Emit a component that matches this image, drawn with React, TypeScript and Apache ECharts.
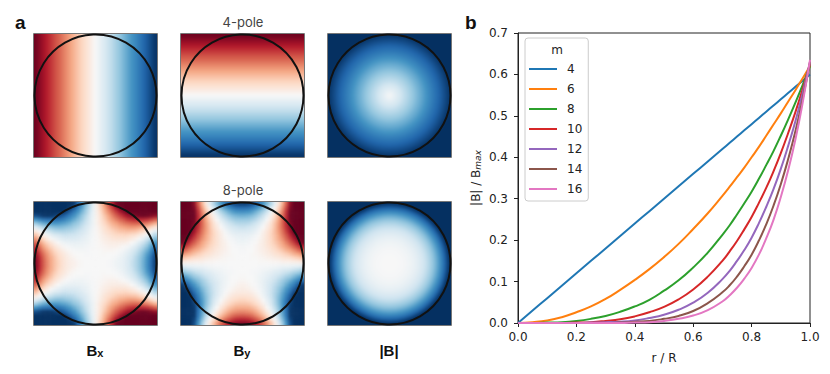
import React, { useEffect, useRef } from "react";
import * as echarts from "echarts";

// Panel b
const radius = [0, 0.05, 0.1, 0.15, 0.2, 0.25, 0.3, 0.35, 0.4, 0.45, 0.5, 0.55, 0.6, 0.65, 0.7, 0.725, 0.75, 0.775, 0.8, 0.825, 0.85, 0.875, 0.9, 0.925, 0.95, 0.975, 1];
const m4 = [0, 0.03, 0.06, 0.09, 0.12, 0.15, 0.18, 0.21, 0.24, 0.27, 0.3, 0.33, 0.36, 0.39, 0.42, 0.435, 0.45, 0.465, 0.48, 0.495, 0.51, 0.525, 0.54, 0.555, 0.57, 0.585, 0.6];
const m6 = [0, 0.002, 0.006, 0.014, 0.026, 0.04, 0.058, 0.08, 0.104, 0.13, 0.159, 0.191, 0.227, 0.265, 0.307, 0.329, 0.352, 0.375, 0.4, 0.425, 0.452, 0.479, 0.506, 0.534, 0.562, 0.591, 0.62];
const m8 = [0, 0, 0.001, 0.002, 0.005, 0.01, 0.017, 0.027, 0.04, 0.056, 0.078, 0.103, 0.134, 0.17, 0.213, 0.236, 0.262, 0.289, 0.317, 0.348, 0.381, 0.415, 0.452, 0.491, 0.532, 0.575, 0.62];
const m10 = [0, 0, 0, 0, 0.001, 0.002, 0.005, 0.009, 0.016, 0.026, 0.039, 0.057, 0.081, 0.112, 0.15, 0.173, 0.198, 0.226, 0.256, 0.29, 0.326, 0.366, 0.41, 0.458, 0.509, 0.565, 0.625];
const m12 = [0, 0, 0, 0, 0, 0.001, 0.002, 0.003, 0.006, 0.012, 0.02, 0.032, 0.049, 0.073, 0.106, 0.126, 0.15, 0.176, 0.206, 0.241, 0.28, 0.323, 0.372, 0.427, 0.487, 0.555, 0.63];
const m14 = [0, 0, 0, 0, 0, 0, 0, 0.001, 0.003, 0.005, 0.01, 0.017, 0.029, 0.048, 0.074, 0.091, 0.112, 0.137, 0.165, 0.199, 0.238, 0.283, 0.335, 0.395, 0.463, 0.541, 0.63];
const m16 = [0, 0, 0, 0, 0, 0, 0, 0, 0.001, 0.002, 0.005, 0.01, 0.018, 0.031, 0.052, 0.067, 0.085, 0.107, 0.133, 0.165, 0.204, 0.249, 0.304, 0.368, 0.443, 0.532, 0.635];
const curves: [string, number[]][] = [["4", m4], ["6", m6], ["8", m8], ["10", m10], ["12", m12], ["14", m14], ["16", m16]];
const curveColors = ["#1f77b4", "#ff7f0e", "#2ca02c", "#d62728", "#9467bd", "#8c564b", "#e377c2"];

// Panel a, 4-pole: field across the square, left to right
const pole4Profile = [-0.98, -0.93, -0.88, -0.83, -0.78, -0.73, -0.68, -0.63, -0.59, -0.54, -0.49, -0.44, -0.39, -0.34, -0.29, -0.24, -0.2, -0.15, -0.1, -0.05, 0, 0.05, 0.1, 0.15, 0.2, 0.24, 0.29, 0.34, 0.39, 0.44, 0.49, 0.54, 0.59, 0.63, 0.68, 0.73, 0.78, 0.83, 0.88, 0.93, 0.98];
// |B| from centre to rim, in 40 equal radial steps
const pole4Radial = [0, 0.02, 0.05, 0.07, 0.1, 0.12, 0.15, 0.17, 0.2, 0.22, 0.25, 0.27, 0.29, 0.32, 0.34, 0.37, 0.39, 0.42, 0.44, 0.47, 0.49, 0.51, 0.54, 0.56, 0.59, 0.61, 0.64, 0.66, 0.69, 0.71, 0.74, 0.76, 0.78, 0.81, 0.83, 0.86, 0.88, 0.91, 0.93, 0.96, 0.98];
const pole8Radial = [0, 0, 0, 0, 0.001, 0.002, 0.003, 0.006, 0.009, 0.012, 0.017, 0.022, 0.029, 0.036, 0.045, 0.055, 0.067, 0.08, 0.096, 0.112, 0.131, 0.151, 0.174, 0.198, 0.226, 0.255, 0.287, 0.321, 0.359, 0.398, 0.441, 0.486, 0.535, 0.586, 0.641, 0.7, 0.762, 0.827, 0.897, 0.969, 1];
// 8-pole Bx, upper-right quadrant: rows go from the centre line upward, columns from the centre line rightward
const pole8Quadrant = [
  [0, 0, 0, 0.01, 0.02, 0.05, 0.07, 0.1, 0.15, 0.22, 0.29, 0.38, 0.49, 0.62, 0.77, 0.94],
  [0, 0, 0, 0, 0.01, 0.03, 0.06, 0.09, 0.14, 0.2, 0.28, 0.37, 0.47, 0.6, 0.75, 0.92],
  [0, -0.01, -0.01, 0, 0, 0.01, 0.03, 0.07, 0.12, 0.17, 0.24, 0.33, 0.44, 0.56, 0.7, 0.87],
  [0, -0.01, -0.02, -0.02, -0.02, -0.01, 0.01, 0.03, 0.08, 0.13, 0.2, 0.28, 0.38, 0.49, 0.63, 0.79],
  [-0.01, -0.02, -0.03, -0.05, -0.05, -0.05, -0.03, -0.01, 0.02, 0.07, 0.13, 0.21, 0.3, 0.41, 0.55, 0.7],
  [-0.01, -0.03, -0.06, -0.07, -0.08, -0.08, -0.08, -0.07, -0.05, 0, 0.05, 0.13, 0.21, 0.31, 0.44, 0.59],
  [-0.01, -0.05, -0.08, -0.1, -0.13, -0.14, -0.14, -0.14, -0.12, -0.09, -0.05, 0.01, 0.09, 0.2, 0.31, 0.45],
  [-0.02, -0.06, -0.1, -0.14, -0.17, -0.2, -0.21, -0.22, -0.21, -0.18, -0.16, -0.1, -0.05, 0.05, 0.15, 0.28],
  [-0.02, -0.08, -0.14, -0.18, -0.22, -0.26, -0.29, -0.3, -0.31, -0.3, -0.29, -0.24, -0.2, -0.12, -0.02, 0.09],
  [-0.03, -0.1, -0.16, -0.23, -0.29, -0.33, -0.38, -0.4, -0.43, -0.44, -0.43, -0.4, -0.37, -0.3, -0.22, -0.12],
  [-0.05, -0.13, -0.21, -0.28, -0.36, -0.41, -0.47, -0.52, -0.55, -0.58, -0.59, -0.58, -0.55, -0.51, -0.44, -0.36],
  [-0.05, -0.15, -0.24, -0.35, -0.43, -0.51, -0.59, -0.64, -0.7, -0.74, -0.76, -0.77, -0.76, -0.74, -0.68, -0.61],
  [-0.06, -0.17, -0.29, -0.4, -0.51, -0.61, -0.7, -0.78, -0.85, -0.91, -0.95, -0.98, -0.99, -0.98, -0.94, -0.9],
  [-0.07, -0.21, -0.35, -0.47, -0.6, -0.71, -0.83, -0.93, -1, -1, -1, -1, -1, -1, -1, -1],
  [-0.08, -0.24, -0.39, -0.55, -0.69, -0.84, -0.97, -1, -1, -1, -1, -1, -1, -1, -1, -1],
  [-0.09, -0.28, -0.45, -0.63, -0.79, -0.97, -1, -1, -1, -1, -1, -1, -1, -1, -1, -1],
];
const rdBu = ["#67001f", "#b2182b", "#d6604d", "#f4a582", "#fddbc7", "#f7f7f7", "#d1e5f0", "#92c5de", "#4393c3", "#2166ac", "#053061"];

const cols = [34, 181, 328];
const rows = [34, 202];
const SIZE = 123;
const clipD = cols.flatMap((x) => rows.map((y) => `M${x} ${y}h${SIZE}v${SIZE}h-${SIZE}z`)).join(" ");

const clamp = (v: number, lo: number, hi: number) => Math.max(lo, Math.min(hi, v));

// 8-pole cells, with the outermost row and column repeated once so that the soft edge falls outside the square
const quadrantGrid = (pick: (ax: number, ay: number) => number, flip: "x" | "y") => {
  const out: number[][] = [];
  for (let ci = 0; ci < 34; ci++) {
    for (let ri = 0; ri < 34; ri++) {
      const c = clamp(ci - 1, 0, 31);
      const r = clamp(ri - 1, 0, 31);
      const ax = c < 16 ? 15 - c : c - 16;
      const ay = r < 16 ? 15 - r : r - 16;
      const neg = flip === "x" ? c < 16 : r < 16;
      const v = pick(ax, ay);
      out.push([ci, ri, neg ? -v : v]);
    }
  }
  return out;
};
const strip = () => [pole4Profile[0], ...pole4Profile, pole4Profile[40]];

const renderRing = (params: any, api: any) => {
  const rr = api.value(0);
  const fill = api.visual("color");
  const cs = params.coordSys;
  if (rr > 1) return { type: "rect", shape: { x: cs.x, y: cs.y, width: cs.width, height: cs.height }, style: { fill } };
  const c = api.coord([0, 0]);
  const s = api.size([rr, 0]);
  return { type: "circle", shape: { cx: c[0], cy: c[1], r: s[0] }, style: { fill } };
};
const ringData = (profile: number[]) => {
  const out: number[][] = [[1.5, 0, 1]];
  for (let i = profile.length - 1; i >= 0; i--) out.push([i / (profile.length - 1), 0, profile[i]]);
  return out;
};

export default function App() {
  const fieldRef = useRef<HTMLDivElement>(null);
  const topRef = useRef<HTMLDivElement>(null);
  useEffect(() => {
    document.body.style.margin = "0";
    const field = echarts.init(fieldRef.current!, undefined, { renderer: "svg" });
    const chart = echarts.init(topRef.current!, undefined, { renderer: "svg" });
    const idx = (n: number) => Array.from({ length: n }, (_, i) => String(i));
    const grids: any[] = [];
    const xAxes: any[] = [];
    const yAxes: any[] = [];
    const series: any[] = [];
    const hm = (i: number, data: number[][]) => ({ type: "heatmap", xAxisIndex: i, yAxisIndex: i, data, silent: true, progressive: 0 });
    const cat = (n: number, i: number) => ({ type: "category", data: idx(n), show: false, gridIndex: i });
    const val = (i: number) => ({ type: "value", min: -65.5 / 61.5, max: 65.5 / 61.5, show: false, gridIndex: i });
    const addGrid = (col: number, row: number, pad: number) => {
      grids.push({ left: cols[col] - pad, top: rows[row] - pad, width: SIZE + 2 * pad, height: SIZE + 2 * pad });
    };
    // 4-pole Bx
    addGrid(0, 0, 3); xAxes.push(cat(43, 0)); yAxes.push(cat(1, 0));
    series.push(hm(0, strip().map((v, i) => [i, 0, v])));
    // 4-pole By
    addGrid(1, 0, 3); xAxes.push(cat(1, 1)); yAxes.push(cat(43, 1));
    series.push(hm(1, strip().map((v, i) => [0, 42 - i, v])));
    // 4-pole |B|
    addGrid(2, 0, 4); xAxes.push(val(2)); yAxes.push(val(2));
    series.push({ type: "custom", xAxisIndex: 2, yAxisIndex: 2, renderItem: renderRing, data: ringData(pole4Radial), silent: true, encode: { x: 0, y: 1 } });
    // 8-pole Bx
    addGrid(0, 1, 3.84); xAxes.push(cat(34, 3)); yAxes.push(cat(34, 3));
    series.push(hm(3, quadrantGrid((ax, ay) => pole8Quadrant[ay][ax], "x")));
    // 8-pole By
    addGrid(1, 1, 3.84); xAxes.push(cat(34, 4)); yAxes.push(cat(34, 4));
    series.push(hm(4, quadrantGrid((ax, ay) => pole8Quadrant[ax][ay], "y")));
    // 8-pole |B|
    addGrid(2, 1, 4); xAxes.push(val(5)); yAxes.push(val(5));
    series.push({ type: "custom", xAxisIndex: 5, yAxisIndex: 5, renderItem: renderRing, data: ringData(pole8Radial), silent: true, encode: { x: 0, y: 1 } });

    field.setOption({
      animation: false,
      grid: grids,
      xAxis: xAxes,
      yAxis: yAxes,
      visualMap: { show: false, type: "continuous", min: -1, max: 1, dimension: 2, seriesIndex: [0, 1, 2, 3, 4, 5], inRange: { color: rdBu } },
      series,
    });

    // Panel b
    const tickLabel = { color: "#222", fontFamily: "DejaVu Sans", fontSize: 12 };
    const axisBits = {
      axisLine: { show: true, onZero: false, lineStyle: { color: "#222", width: 1 } },
      axisTick: { show: true, length: 4, lineStyle: { color: "#222", width: 1 } },
      splitLine: { show: false },
    };
    const bold = { fontFamily: "Liberation Sans", fontWeight: "bold", fill: "#111" };
    const subRich = (label: string, sub: string, x: number) => ({
      type: "text", x, y: 350, z: 100,
      style: {
        text: `{a|${label}}{b|${sub}}`, align: "center", verticalAlign: "middle",
        rich: {
          a: { ...bold, fontSize: 15 },
          b: { ...bold, fontSize: 11, padding: [5, 0, 0, 0] },
        },
      },
    });
    const graphics: any[] = [];
    cols.forEach((cx) => rows.forEach((cy) => {
      graphics.push({ type: "rect", z: 99, shape: { x: cx - 0.5, y: cy - 0.5, width: SIZE + 1, height: SIZE + 1 }, style: { fill: "none", stroke: "#777", lineWidth: 1 } });
      graphics.push({ type: "circle", z: 100, shape: { cx: cx + SIZE / 2, cy: cy + SIZE / 2, r: SIZE / 2 - 0.5 }, style: { fill: "none", stroke: "#111", lineWidth: 2 } });
    }));
    graphics.push(
      { type: "text", x: 15, y: 13, z: 100, style: { ...bold, text: "a", fontSize: 19 } },
      { type: "text", x: 465, y: 13, z: 100, style: { ...bold, text: "b", fontSize: 19 } },
      { type: "text", x: 243, y: 22, z: 100, style: { text: "4-pole", align: "center", verticalAlign: "middle", fontFamily: "Inter", fontSize: 13, fill: "#444" } },
      { type: "text", x: 243, y: 190, z: 100, style: { text: "8-pole", align: "center", verticalAlign: "middle", fontFamily: "Inter", fontSize: 13, fill: "#444" } },
      subRich("B", "x", 95),
      subRich("B", "y", 242),
      { type: "text", x: 389, y: 350, z: 100, style: { ...bold, text: "|B|", fontSize: 15, align: "center", verticalAlign: "middle" } },
      { type: "text", x: 557, y: 50, z: 100, style: { text: "m", align: "center", verticalAlign: "middle", fontFamily: "DejaVu Sans", fontSize: 12, fill: "#222" } },
    );

    chart.setOption({
      animation: false,
      grid: { left: 518, top: 33, width: 292, height: 290, show: true, borderColor: "#222", borderWidth: 1 },
      xAxis: {
        type: "value", min: 0, max: 1, interval: 0.2, ...axisBits,
        axisLabel: { ...tickLabel, margin: 8, formatter: (v: number) => v.toFixed(1) },
        name: "r / R", nameLocation: "middle", nameGap: 29,
        nameTextStyle: { color: "#222", fontFamily: "DejaVu Sans", fontSize: 12 },
      },
      yAxis: {
        type: "value", min: 0, max: 0.7, interval: 0.1, ...axisBits,
        axisLabel: { ...tickLabel, margin: 10, formatter: (v: number) => v.toFixed(1) },
        name: "{a||B| / B}{s|max}", nameLocation: "middle", nameRotate: 90, nameGap: 36,
        nameTextStyle: {
          rich: {
            a: { color: "#222", fontFamily: "DejaVu Sans", fontSize: 12 },
            s: { color: "#222", fontFamily: "DejaVu Sans", fontStyle: "italic", fontSize: 9, verticalAlign: "bottom", padding: [4, 0, 0, 0] },
          },
        },
      },
      legend: {
        left: 525, top: 38, orient: "vertical", padding: [24, 6, 5, 4], itemGap: 6, itemWidth: 28, itemHeight: 2, icon: "rect",
        backgroundColor: "#fff", borderColor: "#ccc", borderWidth: 1, borderRadius: 3,
        data: curves.map(([n]) => n),
        textStyle: { color: "#222", fontFamily: "DejaVu Sans", fontSize: 12, lineHeight: 14, padding: [0, 0, 0, 5] },
      },
      graphic: graphics,
      series: curves.map(([name, values], i) => ({
        type: "line", name, symbol: "none", smooth: 0.5,
        lineStyle: { width: 2, color: curveColors[i] }, itemStyle: { color: curveColors[i] },
        data: radius.map((r, k) => [r, values[k]]), silent: true,
      })),
    });
    return () => { chart.dispose(); field.dispose(); };
  }, []);
  const layer: React.CSSProperties = { position: "absolute", left: 0, top: 0, width: 830, height: 374 };
  return (
    <div style={{ position: "fixed", left: 0, top: 0, width: 830, height: 374, background: "#fff" }}>
      <div style={{ ...layer, clipPath: `path("${clipD}")` }}>
        <div ref={fieldRef} style={{ ...layer, filter: "blur(1.6px)" }} />
      </div>
      <div ref={topRef} style={layer} />
    </div>
  );
}
